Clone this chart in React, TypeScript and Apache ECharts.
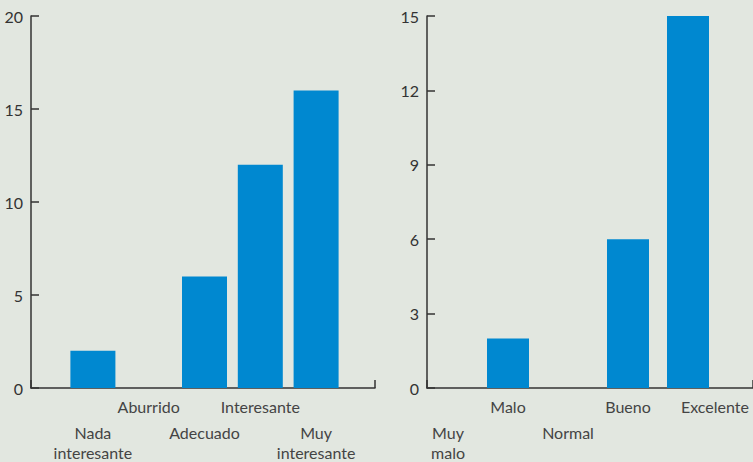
import React, { useEffect, useRef } from "react";
import * as echarts from "echarts";

const leftCategories = ["Nada\ninteresante", "Aburrido", "Adecuado", "Interesante", "Muy\ninteresante"];
const leftValues = [2, 0, 6, 12, 16];
const leftTicks = { min: 0, max: 20, interval: 5 };

const rightCategories = ["Muy\nmalo", "Malo", "Normal", "Bueno", "Excelente"];
const rightValues = [0, 2, 0, 6, 15];
const rightTicks = { min: 0, max: 15, interval: 3 };

const leftLowerRow = [0, 2, 4];
const rightLowerRow = [0, 2];

const BAR = "#0088d0";
const AXIS = "#333333";
const FONT = "Lato";

function labelFormatter(lower: number[]) {
  return (value: string, index: number) => {
    const lines = value.split("\n").map((l) => `{t|${l}}`).join("\n");
    return lower.includes(index) ? `{gap| }\n${lines}` : lines;
  };
}

export default function App() {
  const ref = useRef<HTMLDivElement>(null);
  useEffect(() => {
    if (!ref.current) return;
    const chart = echarts.init(ref.current, null, { renderer: "svg" });
    const frameX = (gridIndex: number) => ({
      type: "value",
      gridIndex,
      min: 0,
      max: 1,
      interval: 1,
      axisLine: { show: true, lineStyle: { color: AXIS, width: 1.5 } },
      axisTick: { show: true, inside: true, length: 8, lineStyle: { color: AXIS, width: 1.5 } },
      axisLabel: { show: false },
      splitLine: { show: false },
    });
    const frameY = (gridIndex: number, t: { min: number; max: number; interval: number }) => ({
      type: "value",
      gridIndex,
      min: t.min,
      max: t.max,
      interval: t.interval,
      axisLine: { show: true, lineStyle: { color: AXIS, width: 1.5 } },
      axisTick: { show: true, inside: true, length: 8, lineStyle: { color: AXIS, width: 1.5 } },
      axisLabel: { color: "#333", fontSize: 16, fontFamily: FONT, margin: 8 },
      splitLine: { show: false },
    });
    const catX = (gridIndex: number, cats: string[], lower: number[], shiftLast = 0) => ({
      type: "category",
      gridIndex,
      data: cats.map((c, i) =>
        i === cats.length - 1 && shiftLast ? { value: c, textStyle: { padding: [0, 0, 0, shiftLast] } } : c
      ),
      axisLine: { show: false },
      axisTick: { show: false },
      axisLabel: {
        interval: 0,
        margin: 8,
        formatter: labelFormatter(lower),
        rich: {
          t: { fontSize: 16, lineHeight: 20, color: "#444", fontFamily: FONT },
          gap: { fontSize: 16, lineHeight: 26 },
        },
      },
    });
    const hiddenY = (gridIndex: number, t: { min: number; max: number }) => ({
      type: "value",
      gridIndex,
      min: t.min,
      max: t.max,
      show: false,
    });
    chart.setOption({
      animation: false,
      backgroundColor: "#e2e7e0",
      grid: [
        { left: 31, top: 16, width: 344, bottom: 74, containLabel: false },
        { left: 65, top: 16, width: 279, bottom: 74, containLabel: false },
        { left: 427, top: 16, right: 0, bottom: 74, containLabel: false },
        { left: 418, top: 16, width: 300, bottom: 74, containLabel: false },
      ],
      xAxis: [
        frameX(0),
        catX(1, leftCategories, leftLowerRow),
        frameX(2),
        catX(3, rightCategories, rightLowerRow, 54),
      ],
      yAxis: [frameY(0, leftTicks), hiddenY(1, leftTicks), frameY(2, rightTicks), hiddenY(3, rightTicks)],
      series: [
        { type: "bar", xAxisIndex: 1, yAxisIndex: 1, data: leftValues, barWidth: 45, itemStyle: { color: BAR } },
        { type: "bar", xAxisIndex: 3, yAxisIndex: 3, data: rightValues, barWidth: 42, itemStyle: { color: BAR } },
      ],
    });
    return () => chart.dispose();
  }, []);
  return (
    <div
      ref={ref}
      style={{ position: "absolute", left: 0, top: 0, width: 753, height: 462 }}
    />
  );
}
